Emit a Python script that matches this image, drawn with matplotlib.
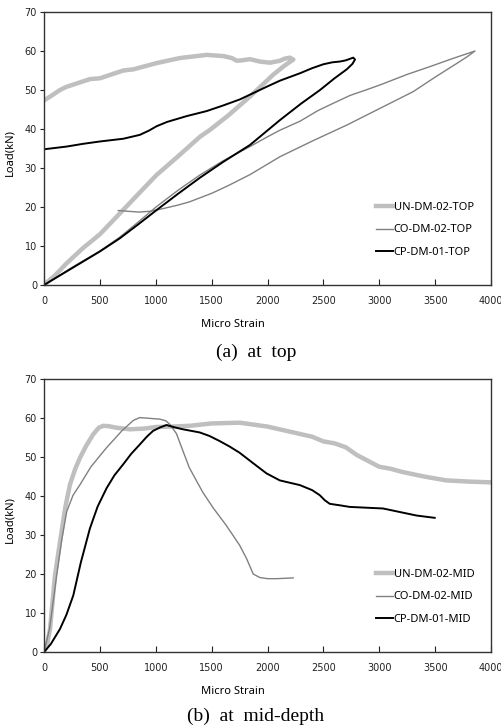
import matplotlib
matplotlib.use("Agg")
import matplotlib.pyplot as plt

# ---- (a) at top ----
un_top_x = [0, 100, 200, 350, 500, 680, 850, 1007, 1200, 1395, 1486, 1650, 1842, 1950, 2050,
            2150, 2200, 2231,
            2200, 2150, 2112, 2022, 1930, 1843, 1770, 1724, 1680, 1605, 1456, 1217, 1008,
            800, 710, 500, 412, 200, 143, 54, 0]
un_top_y = [0, 2.5, 5.5, 9.5, 13, 18.4, 23.5, 28.2, 33, 38, 39.8, 43.5, 48.3, 51.2, 53.9,
            56.2, 57.2, 57.8,
            58.3, 58, 57.5, 57, 57.3, 57.9, 57.6, 57.5, 58.2, 58.7, 59, 58.2, 56.9,
            55.3, 55, 53, 52.8, 50.8, 50, 48.3, 47.3]

co_top_x = [0, 250, 500, 680, 850, 1007, 1200, 1395, 1600, 1843, 2000, 2112, 2291, 2450, 2559,
            2738, 2880, 3007, 3250, 3454, 3650, 3857,
            3780, 3693, 3500, 3305, 3000, 2709, 2400, 2112, 1843, 1650, 1500, 1300, 1200,
            1067, 950, 850, 750, 665]
co_top_y = [0, 4.5, 8.7, 12.3, 16.3, 20.1, 24.3, 28.2, 31.8, 35.5, 38, 39.7, 42, 44.7, 46.2,
            48.6, 50, 51.3, 54, 56, 58, 60,
            58.4, 56.8, 53.3, 49.6, 45.2, 41, 36.9, 32.9, 28.3, 25.5, 23.5, 21.3, 20.5,
            19.6, 18.9, 18.7, 18.9, 19.1]

cp_top_x = [0, 250, 500, 680, 850, 1007, 1200, 1395, 1600, 1843, 2112, 2300, 2470, 2600, 2709,
            2760, 2783,
            2768, 2700, 2649, 2580, 2500, 2400, 2291, 2112, 1990, 1754, 1600, 1456, 1276,
            1100, 1007, 940, 858, 709, 500, 350, 203, 0]
cp_top_y = [0, 4.3, 8.6, 12, 15.7, 19.2, 23.4, 27.5, 31.5, 35.9, 42.3, 46.5, 50, 53, 55.3,
            56.7, 57.8,
            58.3, 57.6, 57.3, 57.1, 56.6, 55.6, 54.3, 52.4, 50.8, 47.6, 46, 44.6, 43.3,
            41.8, 40.7, 39.6, 38.5, 37.5, 36.8, 36.2, 35.5, 34.8]

# ---- (b) at mid-depth ----
un_mid_x = [0, 25, 54, 98, 143, 190, 232, 280, 322, 380, 440, 490, 530, 580, 649, 768, 900,
            1006, 1150, 1304, 1500, 1750, 2000, 2200, 2400, 2500, 2600, 2700, 2800, 2900,
            3000, 3100, 3200, 3400, 3600, 3800, 4000]
un_mid_y = [0, 1.5, 5.9, 19.6, 28.2, 37, 42.9, 47, 49.8, 53, 55.8, 57.5, 58, 57.9, 57.5, 57.1,
            57.3, 57.7, 57.8, 58, 58.6, 58.8, 57.8, 56.5, 55.2, 54, 53.5, 52.5, 50.5, 49,
            47.5, 47, 46.2, 45, 44, 43.7, 43.5]

co_mid_x = [0, 50, 113, 160, 203, 260, 322, 420, 560, 700, 800, 857, 950, 1036, 1090, 1125,
            1185, 1244, 1300, 1351, 1420, 1515, 1630, 1750, 1812, 1872, 1931, 2000, 2080, 2230]
co_mid_y = [0, 6, 19.6, 29, 36, 40.2, 42.9, 47.5, 52.4, 56.8, 59.4, 60.1, 59.9, 59.7, 59.3, 58.4,
            56, 51.5, 47.3, 44.6, 41, 36.9, 32.5, 27.4, 24, 20, 19.1, 18.8, 18.8, 19]

cp_mid_x = [0, 60, 143, 200, 262, 330, 411, 480, 560, 630, 708, 780, 857, 920, 976, 1040, 1096,
            1170, 1244, 1393, 1480, 1571, 1660, 1750, 1872, 1991, 2110, 2289, 2400, 2468,
            2513, 2557, 2650, 2736, 2885, 3034, 3183, 3332, 3496]
cp_mid_y = [0, 2, 5.9, 9.5, 14.5, 23, 31.7, 37.3, 42, 45.3, 48.1, 50.8, 53.2, 55.2, 56.7, 57.6, 58.2,
            57.6, 57.1, 56.3, 55.4, 54.1, 52.7, 51.1, 48.4, 45.8, 44, 42.8, 41.5, 40.2,
            38.9, 38, 37.6, 37.2, 37, 36.8, 35.9, 35, 34.4]

x_ticks = [0, 500, 1000, 1500, 2000, 2500, 3000, 3500, 4000]
y_ticks = [0, 10, 20, 30, 40, 50, 60, 70]

light = "#bfbfbf"
mid = "#808080"
dark = "#000000"

fig = plt.figure(figsize=(5.01, 7.28), dpi=100)
ax1 = fig.add_axes([44 / 501, 1 - 285 / 728, 447 / 501, 273 / 728])
ax2 = fig.add_axes([44 / 501, 1 - 652 / 728, 447 / 501, 273 / 728])

panels = [
    (ax1, (un_top_x, un_top_y), (co_top_x, co_top_y), (cp_top_x, cp_top_y), "TOP"),
    (ax2, (un_mid_x, un_mid_y), (co_mid_x, co_mid_y), (cp_mid_x, cp_mid_y), "MID"),
]

for ax, un, co, cp, tag in panels:
    ax.plot(un[0], un[1], color=light, lw=3.2, label="UN-DM-02-" + tag,
            solid_joinstyle="round")
    ax.plot(co[0], co[1], color=mid, lw=1.0, label="CO-DM-02-" + tag,
            solid_joinstyle="round")
    ax.plot(cp[0], cp[1], color=dark, lw=1.4, label="CP-DM-01-" + tag,
            solid_joinstyle="round")
    ax.set_xlim(0, 4000)
    ax.set_ylim(0, 70)
    ax.set_xticks(x_ticks)
    ax.set_yticks(y_ticks)
    ax.tick_params(axis="x", direction="in", length=4, width=0.8, pad=8,
                   labelsize=7, colors="#222222")
    ax.tick_params(axis="y", direction="out", length=3, width=0.8, pad=2,
                   labelsize=7, colors="#222222")
    for s in ax.spines.values():
        s.set_linewidth(1.0)
        s.set_color("#333333")
    ax.set_xlabel("Micro Strain", fontsize=8, family="Noto Sans")
    ax.xaxis.set_label_coords(0.423, -0.125)
    ax.set_ylabel("Load(kN)", fontsize=8, family="Noto Sans")
    ax.yaxis.set_label_coords(-0.065, 0.487)
    ax.legend(loc="center left", bbox_to_anchor=((366 - 44) / 447, 0.2015),
              frameon=False, handlelength=1.5, handletextpad=0.1,
              labelspacing=1.0, prop={"family": "Noto Sans", "size": 8})

fig.text(0.511, 1 - 352 / 728, "(a)  at  top", ha="center", va="center",
         fontsize=14, family="Liberation Serif")
fig.text(0.511, 1 - 716 / 728, "(b)  at  mid-depth", ha="center", va="center",
         fontsize=14, family="Liberation Serif")

fig.savefig("out.png", dpi=100)
